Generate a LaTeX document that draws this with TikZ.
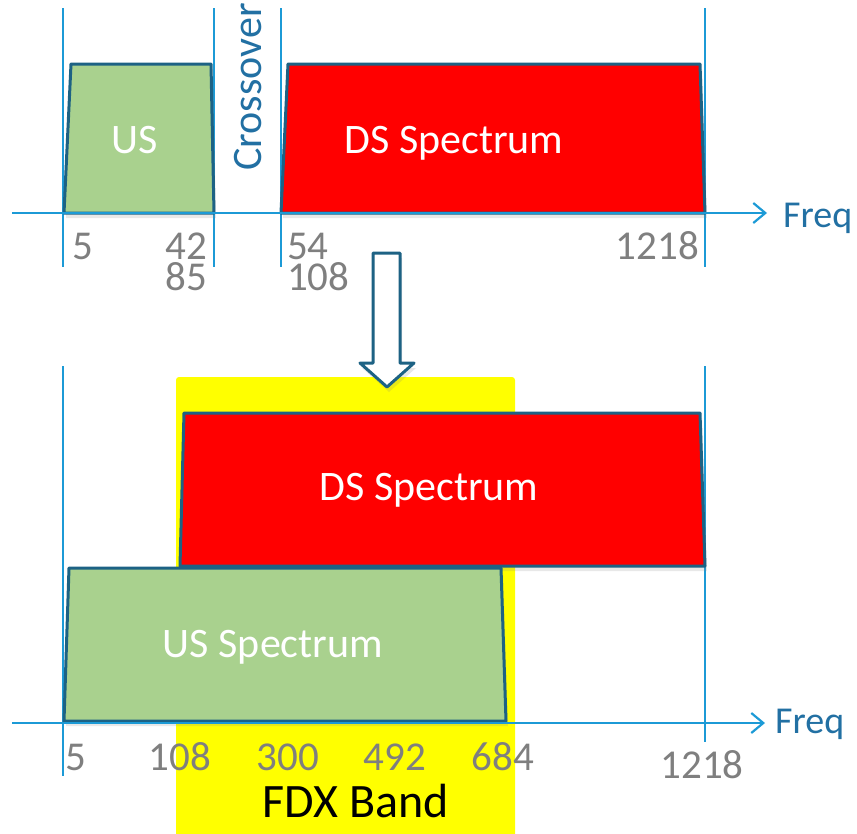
\documentclass[tikz,border=0pt]{standalone}
\usepackage{fontspec}
\setmainfont{Carlito}
\usetikzlibrary{arrows.meta,shadows}

\definecolor{guideblue}{HTML}{1C9AD6}
\definecolor{edgeteal}{HTML}{1D6284}
\definecolor{textblue}{HTML}{2270A3}
\definecolor{usgreen}{HTML}{A9D18E}
\definecolor{dsred}{HTML}{FF0000}
\definecolor{fdxyellow}{HTML}{FFFF00}
\definecolor{labelgray}{HTML}{7F7F7F}

\begin{document}
\begin{tikzpicture}[
  x=1pt, y=-1pt,
  guide/.style={guideblue, line width=1.8pt},
  freqaxis/.style={guideblue, line width=2.2pt, -{Straight Barb[length=12pt,width=20pt,line width=2.2pt]}},
  band/.style={draw=edgeteal, line width=3pt, line join=round,
    drop shadow={opacity=0.18, shadow xshift=2pt, shadow yshift=-5pt}},
  bandtext/.style={text=white, font=\fontsize{42}{50}\selectfont, inner sep=0pt},
  freqlabel/.style={text=labelgray, font=\fontsize{41}{49}\selectfont, inner sep=0pt},
  axistext/.style={text=textblue, font=\fontsize{38}{46}\selectfont, inner sep=0pt},
]
\useasboundingbox (0,0) rectangle (857,833);

% top: legacy split
\draw[guide] (63,8) -- (63,267);
\draw[guide] (214,8) -- (214,267);
\draw[guide] (281,8) -- (281,267);
\draw[guide] (705,8) -- (705,267);
\filldraw[band, fill=usgreen] (64,213) -- (71,64) -- (211,64) -- (214,213) -- cycle;
\filldraw[band, fill=dsred] (281,213) -- (288,64) -- (700,64) -- (705,213) -- cycle;
\coordinate (topstart) at (12,213);
\coordinate (topend) at (767,213);
\draw[freqaxis] (topstart) -- (topend);
\node[bandtext, anchor=base] (us) at (135,153) {US};
\node[bandtext, anchor=base] (dstop) at (454,153) {DS Spectrum};
\node[axistext, rotate=90, font=\fontsize{42}{50}\selectfont] (crossover) at (248,87) {Crossover};
\node[axistext, anchor=base west] (freqtop) at (783,227) {Freq};
\node[freqlabel, anchor=base west] (f5top) at (72,259) {5};
\node[freqlabel, anchor=base east] (f42) at (207,259) {42};
\node[freqlabel, anchor=base east] (f85) at (207,290) {85};
\node[freqlabel, anchor=base west] (f54) at (287,259) {54};
\node[freqlabel, anchor=base west] (f108top) at (287,290) {108};
\node[freqlabel, anchor=base east] (f1218top) at (699,259) {1218};

% bottom: full duplex
\fill[fdxyellow, rounded corners=3pt] (176,377) rectangle (515,840);

% transition arrow
\filldraw[band, fill=white] (373,253) -- (400,253) -- (400,363) -- (414,363)
  -- (387,387) -- (360,363) -- (373,363) -- cycle;

\draw[guide] (63,366) -- (63,776);
\draw[guide] (705,366) -- (705,742);
\filldraw[band, fill=dsred] (180,566) -- (184,413) -- (700,413) -- (705,566) -- cycle;
\filldraw[band, fill=usgreen] (64,721) -- (69,568) -- (501,568) -- (506,721) -- cycle;
\coordinate (botstart) at (12,723);
\coordinate (botend) at (765,723);
\draw[freqaxis] (botstart) -- (botend);
\node[bandtext, anchor=base] (dsbot) at (429,500) {DS Spectrum};
\node[bandtext, anchor=base] (usbot) at (273,657) {US Spectrum};
\node[axistext, anchor=base west] (freqbot) at (775,733) {Freq};
\node[freqlabel, anchor=base west] (f5bot) at (65,770) {5};
\node[freqlabel, anchor=base] (f108bot) at (180,770) {108};
\node[freqlabel, anchor=base] (f300) at (288,770) {300};
\node[freqlabel, anchor=base] (f492) at (395,770) {492};
\node[freqlabel, anchor=base] (f684) at (503,770) {684};
\node[freqlabel, anchor=base] (f1218bot) at (702,778) {1218};
\node[anchor=base, inner sep=0pt, font=\fontsize{48}{56}\selectfont] (fdx) at (356,817) {FDX Band};
\end{tikzpicture}
\end{document}
